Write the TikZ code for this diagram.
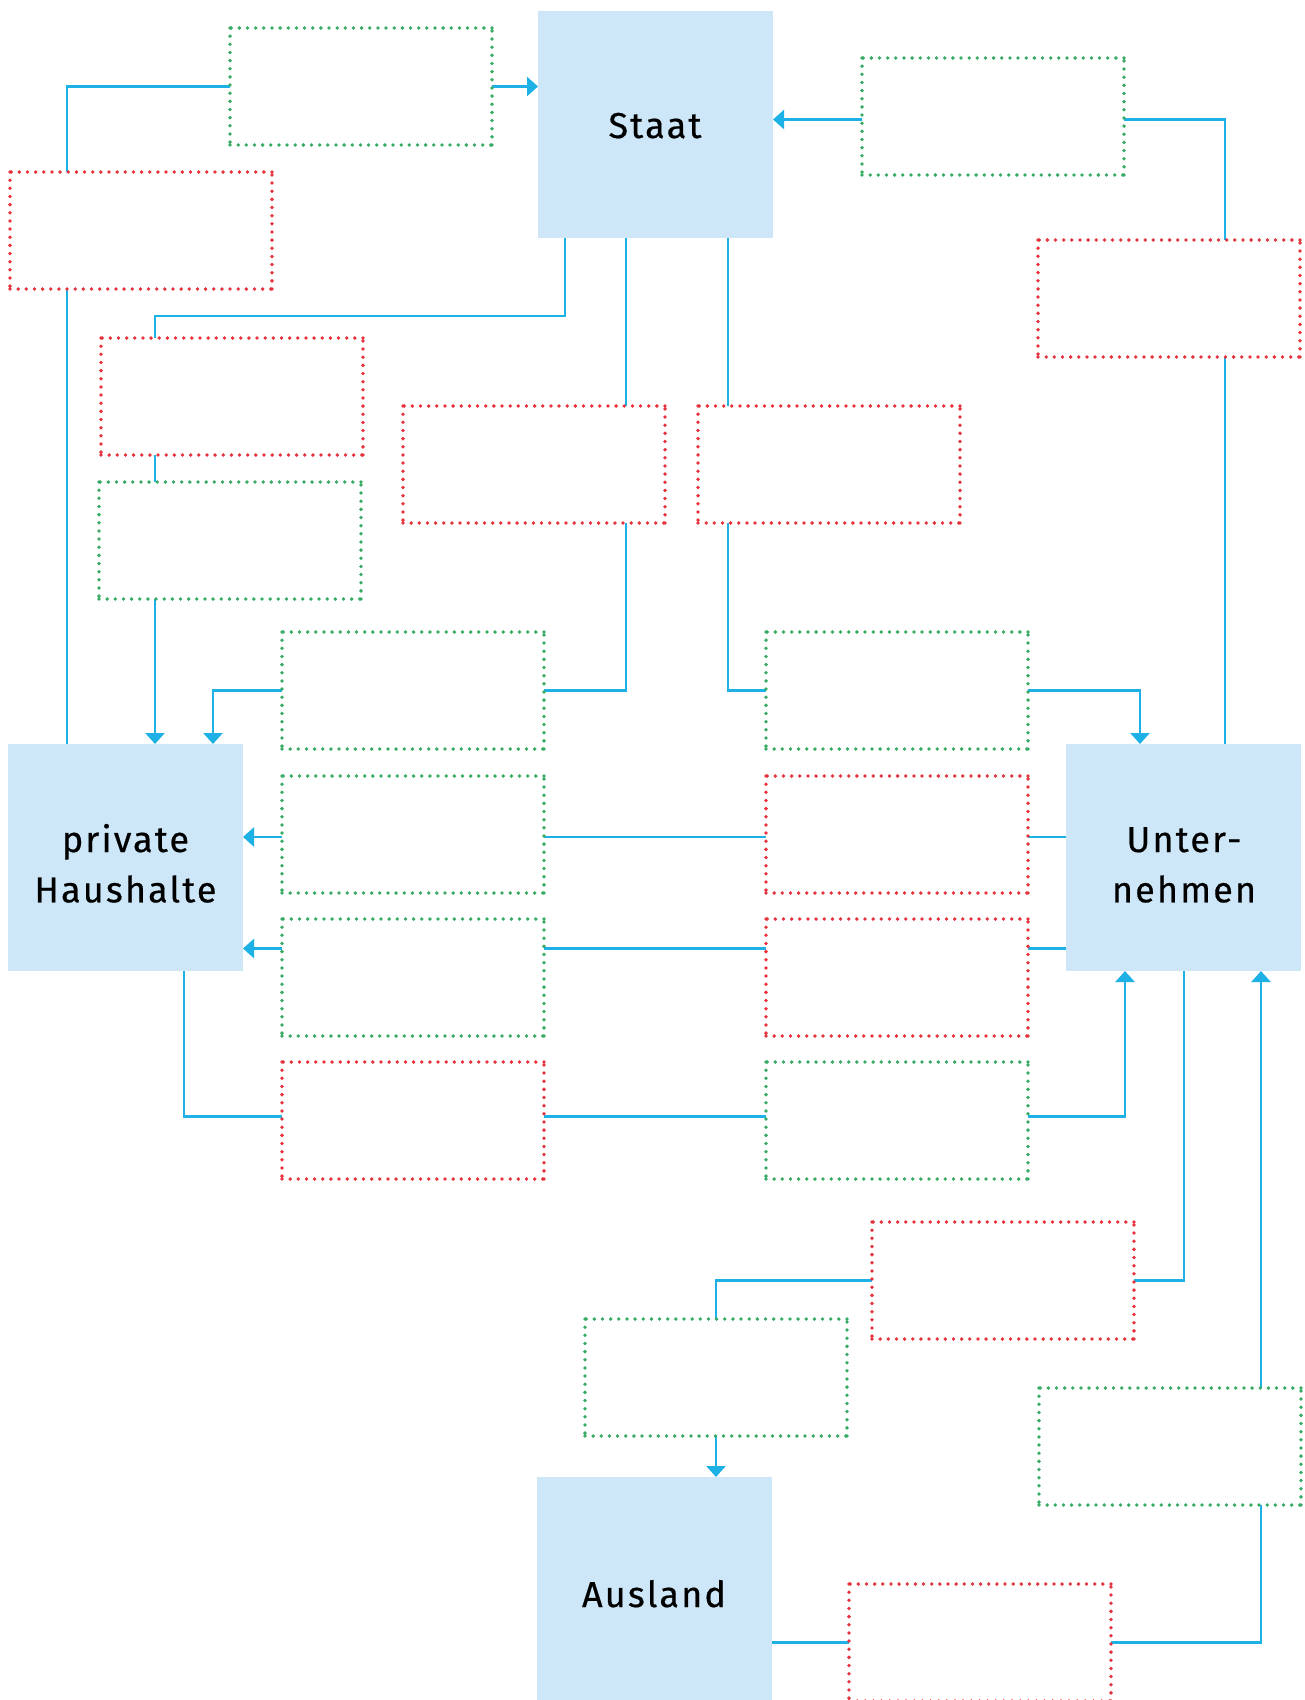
\documentclass[tikz,border=0pt]{standalone}
\usepackage{fontspec}
\setmainfont{Fira Sans}[LetterSpace=6,FakeBold=0.5]
\usetikzlibrary{arrows.meta}
\definecolor{boxfill}{HTML}{CDE7F8}
\definecolor{flowc}{HTML}{1DB1E6}
\definecolor{redd}{HTML}{E6323C}
\definecolor{greend}{HTML}{37AA64}
\tikzset{
  mainbox/.style={fill=boxfill, draw=none, minimum width=235pt, minimum height=227pt, inner sep=0pt, outer sep=0pt, anchor=north west},
  slot/.style={draw=none, minimum width=262pt, minimum height=117pt, inner sep=0pt, outer sep=0pt, anchor=north west},
  dotln/.style={line width=3.8pt, line cap=round, dash pattern=on 0pt off 8.15pt},
  flow/.style={draw=flowc, line width=2.6pt},
  flowarrow/.style={flow, -{Triangle[length=11pt,width=19pt]}},
  lbl/.style={inner sep=0pt, outer sep=0pt, anchor=base, font=\fontsize{36}{50.3}\selectfont},
}
\newcommand\dotframe[2]{\draw[dotln,#2] (#1.north east) -- (#1.north west) (#1.north west) -- (#1.south west) (#1.south west) -- (#1.south east) (#1.south east) -- (#1.north east);}
\begin{document}
\begin{tikzpicture}[x=1pt,y=-1pt]
\useasboundingbox (0,0) rectangle (1304,1700);
\clip (0,0) rectangle (1304,1700);
% main boxes
\node[mainbox] (staat) at (538,11) {};
\node[mainbox] (hh) at (8,744) {};
\node[mainbox] (unt) at (1066,744) {};
\node[mainbox] (aus) at (537,1477) {};
% slots
\node[slot] (g1) at (230,28) {};
\node[slot] (r1) at (10,172) {};
\node[slot] (g2) at (862,58) {};
\node[slot] (r2) at (1038,240) {};
\node[slot] (r3) at (101,338) {};
\node[slot] (g3) at (99,482) {};
\node[slot] (r4) at (403,406) {};
\node[slot] (r5) at (698,406) {};
\node[slot] (g4) at (282,632) {};
\node[slot] (g5) at (766,632) {};
\node[slot] (g6) at (282,776) {};
\node[slot] (r6) at (766,776) {};
\node[slot] (g7) at (282,919) {};
\node[slot] (r7) at (766,919) {};
\node[slot] (r8) at (282,1062) {};
\node[slot] (g8) at (766,1062) {};
\node[slot] (r9) at (872,1222) {};
\node[slot] (g9) at (585,1319) {};
\node[slot] (g10) at (1039,1388) {};
\node[slot] (r10) at (849,1584) {};
% connectors
\draw[flow] ([xshift=57pt]r1.north west) |- (g1.west);
\draw[flowarrow] (g1.east) -- (g1.east -| staat.west);
\draw[flow] ([xshift=57pt]r1.south west) -- ([xshift=57pt]r1.south west |- hh.north);
\draw[flowarrow] ([yshift=-3pt]g2.west) -- ([yshift=-3pt]g2.west -| staat.east);
\draw[flow] ([yshift=-3pt]g2.east) -| ([xshift=-75pt]r2.north east);
\draw[flow] ([xshift=-75pt]r2.south east) -- ([xshift=-75pt]r2.south east |- unt.north);
\draw[flow] ([xshift=27pt]staat.south west) -- ++(0,78) -| ([xshift=54pt]r3.north west);
\draw[flow] ([xshift=54pt]r3.south west) -- ([xshift=54pt]r3.south west |- g3.north);
\draw[flowarrow] ([xshift=56pt]g3.south west) -- ([xshift=56pt]g3.south west |- hh.north);
\draw[flow] ([xshift=88pt]staat.south west) -- ([xshift=88pt]staat.south west |- r4.north);
\draw[flow] ([xshift=223pt]r4.south west) |- (g4.east);
\draw[flowarrow] (g4.west) -| ([xshift=205pt]hh.north west);
\draw[flow] ([xshift=190pt]staat.south west) -- ([xshift=190pt]staat.south west |- r5.north);
\draw[flow] ([xshift=30pt]r5.south west) |- (g5.west);
\draw[flowarrow] (g5.east) -| ([xshift=74pt]unt.north west);
% row 2
\draw[flow] ([yshift=-2.5pt]r6.east -| unt.west) -- ([yshift=-2.5pt]r6.east);
\draw[flow] ([yshift=-2.5pt]r6.west) -- ([yshift=-2.5pt]g6.east);
\draw[flowarrow] ([yshift=-2.5pt]g6.west) -- ([yshift=-2.5pt]g6.west -| hh.east);
% row 3
\draw[flow] ([yshift=29pt]r7.east -| unt.west) -- ([yshift=29pt]r7.east);
\draw[flow] ([yshift=29pt]r7.west) -- ([yshift=29pt]g7.east);
\draw[flowarrow] ([yshift=29pt]g7.west) -- ([yshift=29pt]g7.west -| hh.east);
% row 4
\draw[flow] ([xshift=176pt]hh.south west) |- ([yshift=4pt]r8.west);
\draw[flow] ([yshift=4pt]r8.east) -- ([yshift=4pt]g8.west);
\draw[flowarrow] ([yshift=4pt]g8.east) -| ([xshift=59pt]unt.south west);
% foreign trade
\draw[flow] ([xshift=118pt]unt.south west) |- (r9.east);
\draw[flow] (r9.west) -| (g9.north);
\draw[flowarrow] (g9.south) -- (g9.south |- aus.north);
\draw[flow] (r10.west -| aus.east) -- (r10.west);
\draw[flow] (r10.east) -| ([xshift=-40pt]g10.south east);
\draw[flowarrow] ([xshift=-40pt]g10.north east) -- ([xshift=-40pt]g10.north east |- unt.south);
% dotted frames
\dotframe{g1}{greend}
\dotframe{r1}{redd}
\dotframe{g2}{greend}
\dotframe{r2}{redd}
\dotframe{r3}{redd}
\dotframe{g3}{greend}
\dotframe{r4}{redd}
\dotframe{r5}{redd}
\dotframe{g4}{greend}
\dotframe{g5}{greend}
\dotframe{g6}{greend}
\dotframe{r6}{redd}
\dotframe{g7}{greend}
\dotframe{r7}{redd}
\dotframe{r8}{redd}
\dotframe{g8}{greend}
\dotframe{r9}{redd}
\dotframe{g9}{greend}
\dotframe{g10}{greend}
\dotframe{r10}{redd}
% labels
\node[lbl] (staat-l) at (655,138) {Staat};
\node[lbl] (hh-l) at (125.5,852) {\begin{tabular}[t]{@{}c@{}}private\\Haushalte\end{tabular}};
\node[lbl] (unt-l) at (1184,852) {\begin{tabular}[t]{@{}c@{}}Unter-\\nehmen\end{tabular}};
\node[lbl] (aus-l) at (654,1607) {Ausland};
\end{tikzpicture}
\end{document}
